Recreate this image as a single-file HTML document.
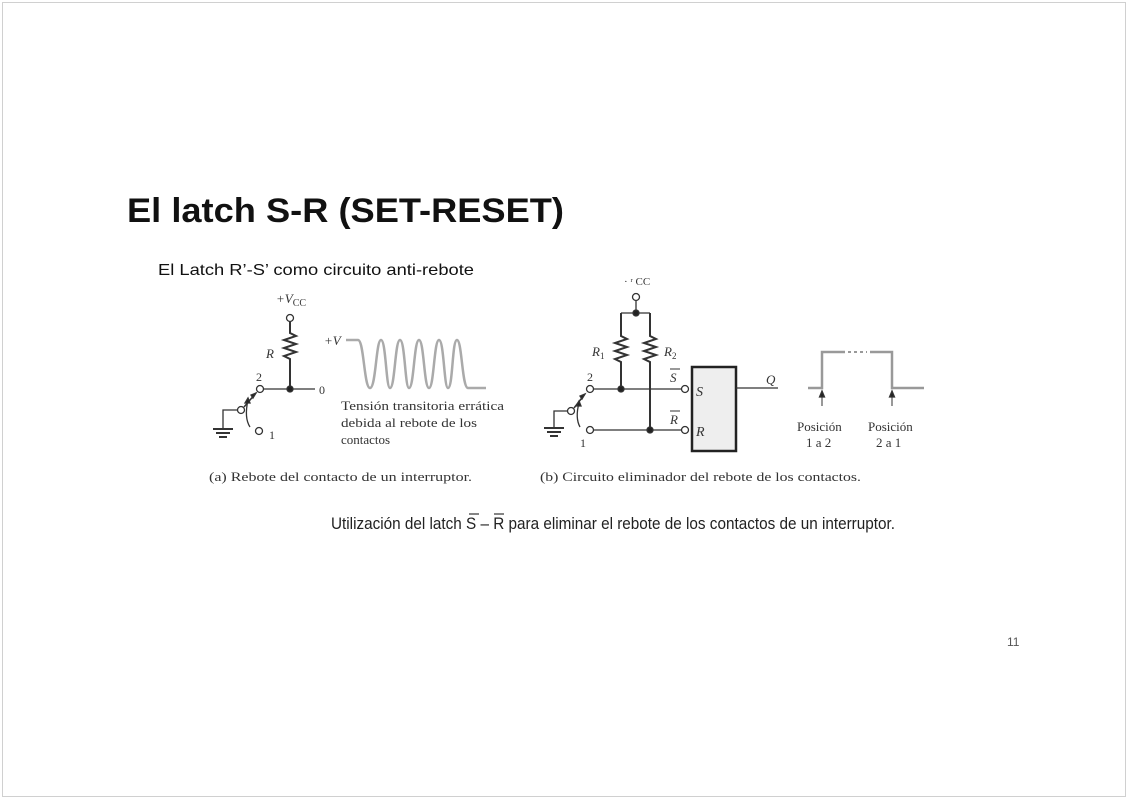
<!DOCTYPE html>
<html><head><meta charset="utf-8"><style>
html,body{margin:0;padding:0;background:#fff;}
svg{display:block;}
</style></head><body>
<svg width="1128" height="800" viewBox="0 0 1128 800" xmlns="http://www.w3.org/2000/svg">
<rect x="2.5" y="2.5" width="1123" height="794" fill="#fff" stroke="#d0d0d0"/>
<text x="127" y="222" font-family="Liberation Sans, sans-serif" font-weight="bold" font-size="34" fill="#111" textLength="437" lengthAdjust="spacingAndGlyphs">El latch S-R (SET-RESET)</text>
<text x="158" y="275" font-family="Liberation Sans, sans-serif" font-size="16" fill="#111" textLength="316" lengthAdjust="spacingAndGlyphs">El Latch R’-S’ como circuito anti-rebote</text>

<g stroke="#333" stroke-width="1.3" fill="none">
<!-- (a) circuit -->
<circle cx="290" cy="318" r="3.5" fill="#fff"/>
<path d="M290,322 V333 l6,3 l-12,4 l12,4 l-12,4 l12,4 l-12,4 l6,3 V389" stroke-width="2"/>
<circle cx="260" cy="389" r="3.5" fill="#fff"/>
<path d="M264,389 H315"/>
<circle cx="290" cy="389" r="3" fill="#222"/>
<circle cx="241" cy="410" r="3.5" fill="#fff"/>
<path d="M237,410 H223 V429"/>
<path d="M213,429 H233 M216,433 H230 M219,437 H227" stroke-width="2"/>
<path d="M244,407 L256,393" stroke-width="1.5"/>
<path d="M256,393 l-5,2 l2,3 z" fill="#222"/>
<circle cx="259" cy="431" r="3.5" fill="#fff"/>
<path d="M250,427 Q244,418 248,400" />
<path d="M248,398 l-3,5 l5,0 z" fill="#222"/>
<path d="M346,340 H358 C364,340 364,388 370,388 C376,388 376,340 381,340 C386,340 386,388 390,388 C395,388 395,340 400,340 C405,340 405,388 409,388 C414,388 414,340 419,340 C424,340 424,388 429,388 C434,388 434,340 439,340 C444,340 444,388 448,388 C453,388 452,340 457,340 C462,340 462,388 468,388 H486" stroke="#aaa" stroke-width="2.5"/>

<!-- (b) circuit -->
<circle cx="636" cy="297" r="3.5" fill="#fff"/>
<path d="M636,301 V313 M621,313 H650"/>
<circle cx="636" cy="313" r="3" fill="#222"/>
<path d="M621,313 V336 l6,3 l-12,4 l12,4 l-12,4 l12,4 l-12,4 l6,3 V389" stroke-width="2"/>
<path d="M650,313 V336 l6,3 l-12,4 l12,4 l-12,4 l12,4 l-12,4 l6,3 V430" stroke-width="2"/>
<circle cx="590" cy="389" r="3.5" fill="#fff"/>
<circle cx="590" cy="430" r="3.5" fill="#fff"/>
<path d="M594,389 H681 M594,430 H681"/>
<circle cx="621" cy="389" r="3" fill="#222"/>
<circle cx="650" cy="430" r="3" fill="#222"/>
<circle cx="685" cy="389" r="3.5" fill="#fff"/>
<circle cx="685" cy="430" r="3.5" fill="#fff"/>
<rect x="692" y="367" width="44" height="84" fill="#eee" stroke="#222" stroke-width="2.5"/>
<path d="M736,388 H778"/>
<circle cx="571" cy="411" r="3.5" fill="#fff"/>
<path d="M567,411 H554 V428"/>
<path d="M544,428 H564 M547,432 H561 M550,436 H558" stroke-width="2"/>
<path d="M574,408 L585,394" stroke-width="1.5"/>
<path d="M585,394 l-5,2 l2,3 z" fill="#222"/>
<path d="M580,427 Q575,418 579,403"/>
<path d="M579,401 l-3,5 l5,0 z" fill="#222"/>
<path d="M808,388 H822 V352 H845 M870,352 H892 V388 H924" stroke="#999" stroke-width="2.5"/>
<path d="M848,352 H867" stroke="#999" stroke-width="2" stroke-dasharray="3,3"/>
<path d="M822,406 V396 M892,406 V396" stroke-width="1"/>
<path d="M822,391 l-2.5,6 h5 z M892,391 l-2.5,6 h5 z" fill="#222"/>
</g>

<g font-family="Liberation Serif, serif" fill="#333" stroke="none">
<text x="276" y="303" font-size="13" font-style="italic">+V<tspan font-size="10" dy="3" font-style="normal">CC</tspan></text>
<text x="266" y="358" font-size="13" font-style="italic">R</text>
<text x="256" y="381" font-size="12">2</text>
<text x="319" y="394" font-size="12">0</text>
<text x="269" y="439" font-size="12">1</text>
<text x="324" y="345" font-size="13" font-style="italic">+V</text>
<text x="341" y="410" font-size="13" textLength="163" lengthAdjust="spacingAndGlyphs">Tensión transitoria errática</text>
<text x="341" y="427" font-size="13" textLength="136" lengthAdjust="spacingAndGlyphs">debida al rebote de los</text>
<text x="341" y="444" font-size="13">contactos</text>
<text x="209" y="481" font-size="13" textLength="263" lengthAdjust="spacingAndGlyphs">(a)  Rebote del contacto de un interruptor.</text>
<text x="624" y="285" font-size="11">· ʳ CC</text>
<text x="592" y="356" font-size="13" font-style="italic">R<tspan font-size="9" dy="3" font-style="normal">1</tspan></text>
<text x="664" y="356" font-size="13" font-style="italic">R<tspan font-size="9" dy="3" font-style="normal">2</tspan></text>
<text x="587" y="381" font-size="12">2</text>
<text x="580" y="447" font-size="12">1</text>
<text x="670" y="382" font-size="13" font-style="italic">S</text>
<line x1="670" y1="369" x2="680" y2="369" stroke="#333"/>
<text x="670" y="424" font-size="13" font-style="italic">R</text>
<line x1="670" y1="411" x2="680" y2="411" stroke="#333"/>
<text x="696" y="396" font-size="14" font-style="italic">S</text>
<text x="696" y="436" font-size="14" font-style="italic">R</text>
<text x="766" y="384" font-size="13" font-style="italic">Q</text>
<text x="797" y="431" font-size="13">Posición</text>
<text x="868" y="431" font-size="13">Posición</text>
<text x="806" y="447" font-size="13">1  a 2</text>
<text x="876" y="447" font-size="13">2  a 1</text>
<text x="540" y="481" font-size="13" textLength="321" lengthAdjust="spacingAndGlyphs">(b)  Circuito eliminador del rebote de los contactos.</text>
</g>

<g font-family="Liberation Sans, sans-serif" font-size="17" fill="#222">
<text x="331" y="529" textLength="564" lengthAdjust="spacingAndGlyphs">Utilización del latch  S – R para eliminar el rebote de los contactos de un interruptor.</text>
</g>
<line x1="469" y1="514" x2="479" y2="514" stroke="#333" stroke-width="1.2"/>
<line x1="494" y1="514" x2="504" y2="514" stroke="#333" stroke-width="1.2"/>
<text x="1007" y="646" font-family="Liberation Sans, sans-serif" font-size="12" fill="#555">11</text>
</svg>
</body></html>
